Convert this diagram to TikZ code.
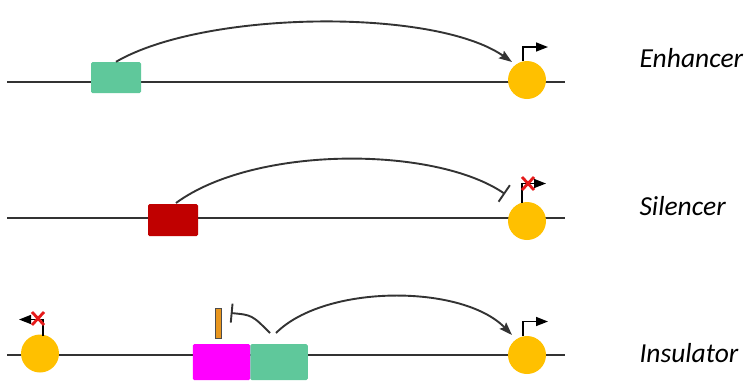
\documentclass[tikz,border=0pt]{standalone}
\usepackage{fontspec}
\setmainfont{Carlito}
\usetikzlibrary{arrows.meta}
\definecolor{enhgreen}{HTML}{5FC89B}
\definecolor{silred}{HTML}{C00000}
\definecolor{insmag}{HTML}{FF00FF}
\definecolor{promyellow}{HTML}{FFC000}
\definecolor{barorange}{HTML}{E8961E}
\definecolor{dnagray}{HTML}{333333}
\definecolor{xred}{HTML}{E51A1A}
\tikzset{
  dna/.style={draw=dnagray, line width=2.2pt},
  elem/.style={rectangle, rounded corners=1.5pt, inner sep=0pt, draw=none},
  prom/.style={circle, fill=promyellow, minimum size=38pt, inner sep=0pt},
  promarrow/.style={draw=black, line width=1.6pt, -{Triangle[length=12pt,width=9pt]}},
  loop/.style={draw=dnagray, line width=1.9pt},
  label/.style={anchor=base west, font=\fontsize{27.5}{32}\selectfont\itshape},
  xmark/.style={draw=xred, line width=2.8pt}
}
\begin{document}
\begin{tikzpicture}[x=1pt,y=-1pt]
\useasboundingbox (0,0) rectangle (749,381);
% ---------- Row 1: Enhancer ----------
\coordinate (l1a) at (7,82);
\coordinate (l1b) at (565,82);
\draw[dna] (l1a) -- (l1b);
\node[elem, fill=enhgreen, minimum width=50pt, minimum height=31pt] (enh1) at (116,77.5) {};
\node[prom] (p1) at (527,80) {};
\coordinate (p1v) at (523,61);
\coordinate (p1c) at (523,47);
\coordinate (p1t) at (548,47);
\draw[promarrow] (p1v) -- (p1c) -- (p1t);
\draw[loop, -{Stealth[length=13pt,width=9pt,inset=2pt]}] (enh1.north) .. controls (205,10) and (435,8) .. (512,62);
\node[label] (t1) at (636,67) {Enhancer};
% ---------- Row 2: Silencer ----------
\coordinate (l2a) at (7,218);
\coordinate (l2b) at (565,218);
\draw[dna] (l2a) -- (l2b);
\node[elem, fill=silred, minimum width=50pt, minimum height=32pt] (sil) at (173,220) {};
\node[prom] (p2) at (527,221) {};
\coordinate (p2v) at (522,203);
\coordinate (p2c) at (522,183.5);
\coordinate (p2t) at (546,183.5);
\draw[promarrow] (p2v) -- (p2c) -- (p2t);
\draw[xmark] (522,177) -- (534,190) (522,190) -- (534,177);
\draw[loop, -{Bar[width=20pt,line width=1.9pt]}] (176,203) .. controls (255,145) and (435,146) .. (505,194);
\node[label] (t2) at (636,215) {Silencer};
% ---------- Row 3: Insulator ----------
\coordinate (l3a) at (7,355);
\coordinate (l3b) at (565,355);
\draw[dna] (l3a) -- (l3b);
\node[prom] (p3l) at (40,353.5) {};
\coordinate (p3lv) at (43,336);
\coordinate (p3lc) at (43,319.5);
\coordinate (p3lt) at (19,319.5);
\draw[promarrow] (p3lv) -- (p3lc) -- (p3lt);
\draw[xmark] (32,312) -- (44,325) (32,325) -- (44,312);
\node[elem, fill=insmag, minimum width=57.5pt, minimum height=36pt] (ins) at (221.5,362) {};
\node[elem, fill=enhgreen, minimum width=57.5pt, minimum height=36pt] (enh3) at (279,362) {};
\node[rectangle, draw=black!70, line width=1pt, fill=barorange, minimum width=6pt, minimum height=30pt, inner sep=0pt] (bar) at (218.3,323) {};
\node[prom] (p3r) at (527,355) {};
\coordinate (p3rv) at (523,336);
\coordinate (p3rc) at (523,321.5);
\coordinate (p3rt) at (548,321.5);
\draw[promarrow] (p3rv) -- (p3rc) -- (p3rt);
\coordinate (blk) at (230.7,313);
\coordinate (blkend) at (270,333);
\draw[loop, {Bar[width=19pt,line width=1.9pt]}-] (blk) .. controls (252,315) .. (blkend);
\coordinate (loop3s) at (276,333);
\draw[loop, -{Stealth[length=13pt,width=9pt,inset=2pt]}] (loop3s) .. controls (325,284) and (462,284) .. (512,335);
\node[label] (t3) at (636,362) {Insulator};
\end{tikzpicture}
\end{document}
